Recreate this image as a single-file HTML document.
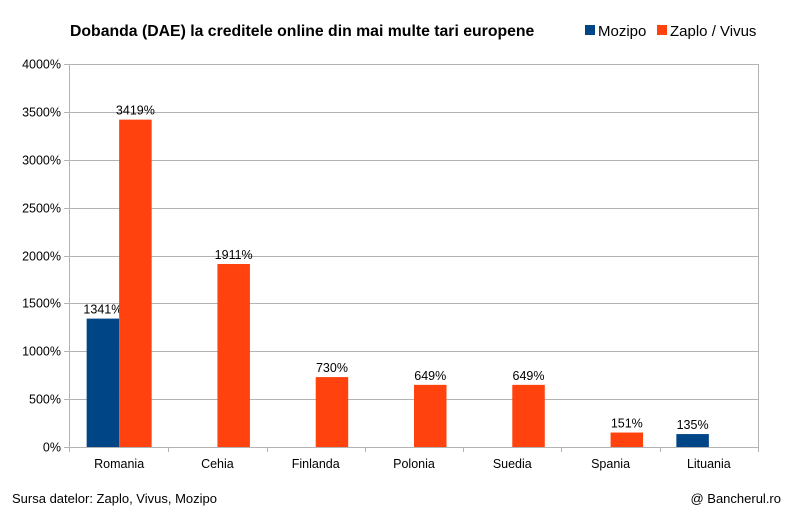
<!DOCTYPE html>
<html><head><meta charset="utf-8"><style>
body{margin:0;background:#fff}
svg text{font-family:"Liberation Sans",sans-serif;fill:#000}
</style></head><body>
<svg id="c" width="791" height="512">
<text x="70" y="36" font-size="15.8" font-weight="bold">Dobanda (DAE) la creditele online din mai multe tari europene</text>
<g>
<rect x="585" y="25" width="10" height="10" fill="#004586"/>
<text x="598" y="36" font-size="15">Mozipo</text>
<rect x="657" y="25" width="10" height="10" fill="#ff420e"/>
<text x="670" y="36" font-size="15">Zaplo / Vivus</text>
</g>
<g id="grid"></g><g id="bars"></g><g id="axes"></g>
<text x="12" y="503" font-size="13">Sursa datelor: Zaplo, Vivus, Mozipo</text>
<text x="781" y="503" font-size="13" text-anchor="end">@ Bancherul.ro</text>
</svg>
<script>
const categories=["Romania","Cehia","Finlanda","Polonia","Suedia","Spania","Lituania"];
const mozipo=[1341,null,null,null,null,null,135];
const zaplo=[3419,1911,730,649,649,151,null];
const ticks=[0,500,1000,1500,2000,2500,3000,3500,4000];
const NS="http://www.w3.org/2000/svg";
const L=70,R=758,T=64,B=447,max=4000;
const y=v=>B-(v/max)*(B-T);
const bw=(R-L)/categories.length;
const xc=i=>L+bw*(i+0.5);
function mk(tag,a,p,txt){const e=document.createElementNS(NS,tag);for(const k in a)e.setAttribute(k,a[k]);if(txt!=null)e.textContent=txt;p.appendChild(e);return e;}
const g=document.getElementById('grid'),b=document.getElementById('bars'),ax=document.getElementById('axes');
ticks.forEach(t=>{
 const yy=Math.round(y(t))+0.5;
 const l=mk('line',{x1:64,x2:R,y1:yy,y2:yy,stroke:'#b3b3b3','stroke-width':1},g);
 
 
 const tx=mk('text',{x:61,y:yy+4,'font-size':12.5,'text-anchor':'end'},ax,t+'%');
 
 
});
mk('line',{x1:L-0.5,x2:L-0.5,y1:T,y2:B+5,stroke:'#b3b3b3'},ax);
mk('line',{x1:R+0.5,x2:R+0.5,y1:T,y2:B+5,stroke:'#b3b3b3'},ax);
categories.forEach((c,i)=>{
 const xx=Math.round(L+bw*(i+1))+0.5;
 mk('line',{x1:xx,x2:xx,y1:B,y2:B+5,stroke:'#b3b3b3'},ax);
 const tx=mk('text',{x:xc(i),y:468,'font-size':12.5,'text-anchor':'middle'},ax,c);
 
 
 [[mozipo,'#004586',-1,'mozipo'],[zaplo,'#ff420e',0,'zaplo']].forEach(([s,col,off,n])=>{
  const v=s[i]; if(v==null)return;
  const x0=xc(i)+off*32.5, w=32.5;
  const r=mk('rect',{x:x0,y:y(v),width:w,height:B-y(v),fill:col},b);
  
  
  const lt=mk('text',{x:x0+w/2,y:y(v)-5,'font-size':12.5,'text-anchor':'middle'},b,v+'%');
  
  
 });
});
</script>
</body></html>
